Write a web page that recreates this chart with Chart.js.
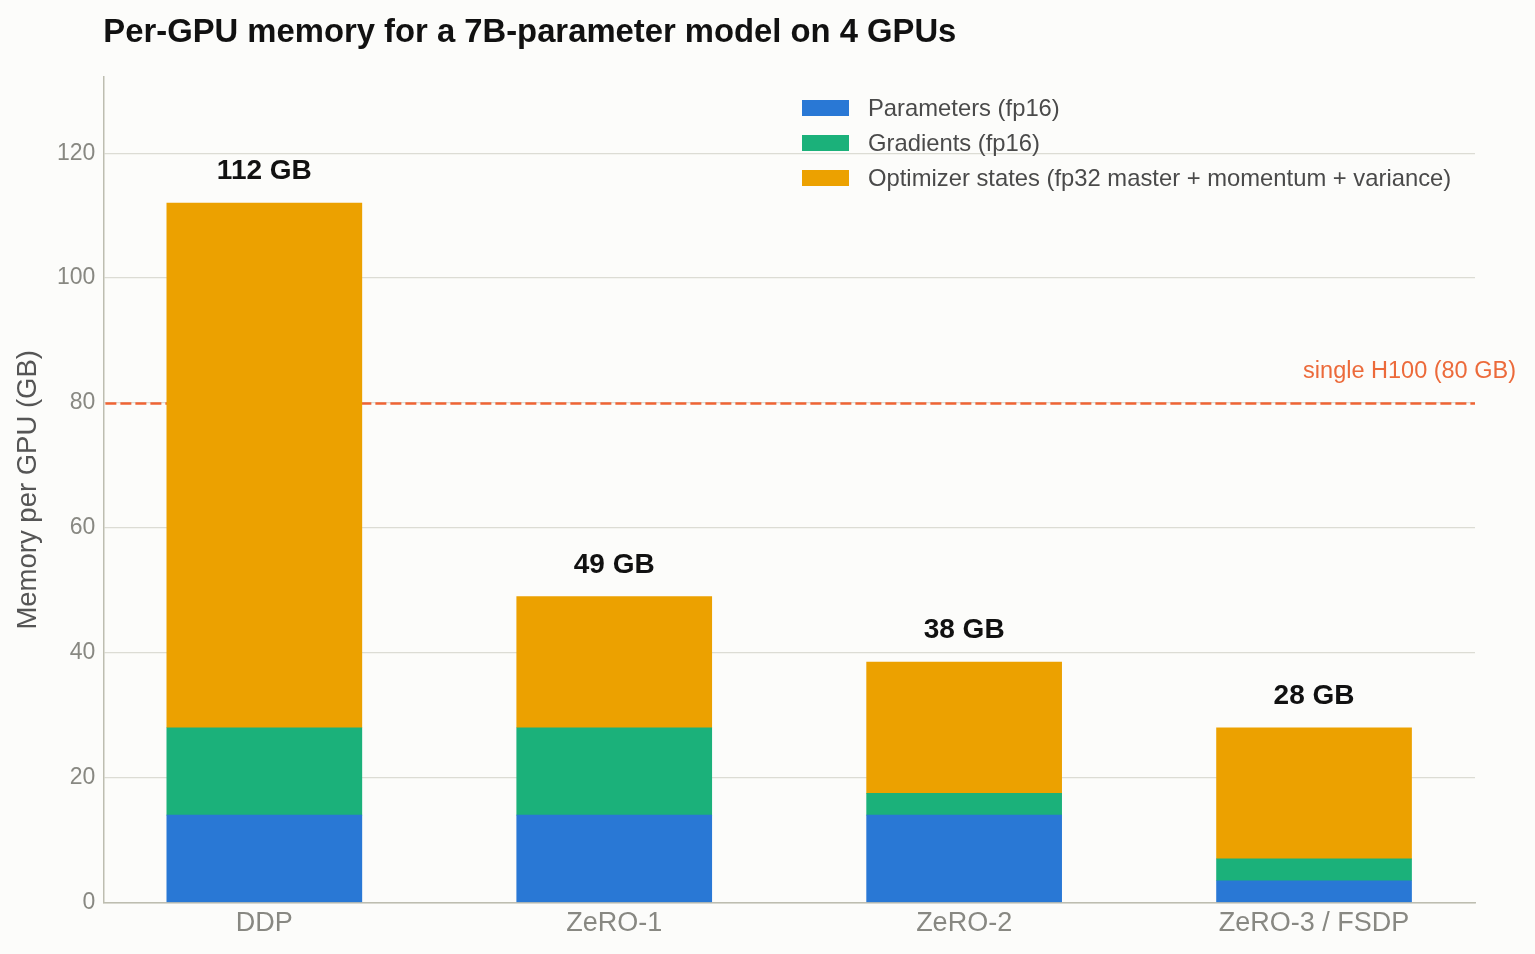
<!DOCTYPE html>
<html>
<head>
  <title>Per-GPU memory</title>
  <script src="https://cdn.jsdelivr.net/npm/chart.js"></script>
  <style>
    body { margin: 0; background: #fcfcfa; }
    #wrap { width: 1535px; height: 954px; }
  </style>
</head>
<body>
  <div id="wrap"><canvas id="memChart" width="1535" height="954"></canvas></div>

  <script>
    const strategies = ['DDP', 'ZeRO-1', 'ZeRO-2', 'ZeRO-3 / FSDP'];
    const params = [14, 14, 14, 3.5];
    const grads = [14, 14, 3.5, 3.5];
    const optim = [84, 21, 21, 21];
    const totalLabels = ['112 GB', '49 GB', '38 GB', '28 GB'];
    const yTicks = [0, 20, 40, 60, 80, 100, 120];
    const h100Limit = 80;

    const font = "'Liberation Sans', Arial, sans-serif";
    const toPoints = arr => arr.map((v, i) => ({ x: i, y: v }));

    // dashed H100 line goes under the bars
    const limitLine = {
      id: 'limitLine',
      beforeDatasetsDraw(chart) {
        const { ctx, chartArea, scales } = chart;
        const ly = Math.round(scales.y.getPixelForValue(h100Limit)) + 0.5;
        ctx.save();
        ctx.strokeStyle = '#ef6434';
        ctx.lineWidth = 2.5;
        ctx.setLineDash([11, 4]);
        ctx.beginPath();
        ctx.moveTo(chartArea.left + 2, ly);
        ctx.lineTo(chartArea.right, ly);
        ctx.stroke();
        ctx.restore();
      }
    };

    // totals, line label, title and legend
    const extras = {
      id: 'extras',
      afterDatasetsDraw(chart) {
        const { ctx, chartArea, scales } = chart;
        const x = scales.x, y = scales.y;
        ctx.save();

        ctx.font = 'bold 28px ' + font;
        ctx.fillStyle = '#111';
        ctx.textAlign = 'center';
        ctx.textBaseline = 'alphabetic';
        strategies.forEach((s, i) => {
          const tot = params[i] + grads[i] + optim[i];
          ctx.fillText(totalLabels[i], x.getPixelForValue(i), y.getPixelForValue(tot) - 24);
        });

        ctx.font = '23.5px ' + font;
        ctx.fillStyle = '#ec6a3a';
        ctx.textAlign = 'right';
        ctx.fillText('single H100 (80 GB)', 1516, y.getPixelForValue(h100Limit) - 25);

        ctx.font = 'bold 32.8px ' + font;
        ctx.fillStyle = '#111';
        ctx.textAlign = 'left';
        ctx.fillText('Per-GPU memory for a 7B-parameter model on 4 GPUs', chartArea.left, 42);

        ctx.font = '23.8px ' + font;
        chart.data.datasets.forEach((ds, i) => {
          const ry = 108 + i * 35;
          ctx.fillStyle = ds.backgroundColor;
          ctx.fillRect(802, ry - 8, 47, 16);
          ctx.fillStyle = '#4a4a4a';
          ctx.fillText(ds.label, 868, ry + 8);
        });
        ctx.restore();
      }
    };

    new Chart(document.getElementById('memChart'), {
      type: 'bar',
      data: {
        datasets: [
          { label: 'Parameters (fp16)', data: toPoints(params), backgroundColor: '#2978d5' },
          { label: 'Gradients (fp16)', data: toPoints(grads), backgroundColor: '#1bb17a' },
          { label: 'Optimizer states (fp32 master + momentum + variance)', data: toPoints(optim), backgroundColor: '#eca100' }
        ]
      },
      options: {
        responsive: false,
        animation: false,
        layout: { padding: { left: 12, right: 60, top: 77, bottom: 9 } },
        datasets: { bar: { barThickness: 195, borderWidth: 0 } },
        plugins: {
          legend: { display: false },
          tooltip: { enabled: false }
        },
        scales: {
          x: {
            type: 'linear',
            stacked: true,
            offset: false,
            min: -0.46,
            max: 3.46,
            grid: { display: false, drawTicks: false },
            border: { color: '#bdbdb0', width: 1.5 },
            afterBuildTicks: axis => { axis.ticks = strategies.map((s, i) => ({ value: i })); },
            ticks: {
              padding: 5,
              color: '#888882',
              font: { family: font, size: 27 },
              maxRotation: 0,
              callback: v => strategies[v]
            }
          },
          y: {
            stacked: true,
            min: 0,
            max: 132.2,
            afterBuildTicks: axis => { axis.ticks = yTicks.map(v => ({ value: v })); },
            grid: { color: '#dcdcd4', lineWidth: 1.3, drawTicks: false },
            border: { color: '#bdbdb0', width: 1.5 },
            ticks: {
              padding: 8,
              color: '#888882',
              font: { family: font, size: 23 }
            },
            title: {
              display: true,
              text: 'Memory per GPU (GB)',
              color: '#555',
              font: { family: font, size: 27.5 },
              padding: { top: 0, bottom: 4 }
            }
          }
        }
      },
      plugins: [limitLine, extras]
    });
  </script>
</body>
</html>
